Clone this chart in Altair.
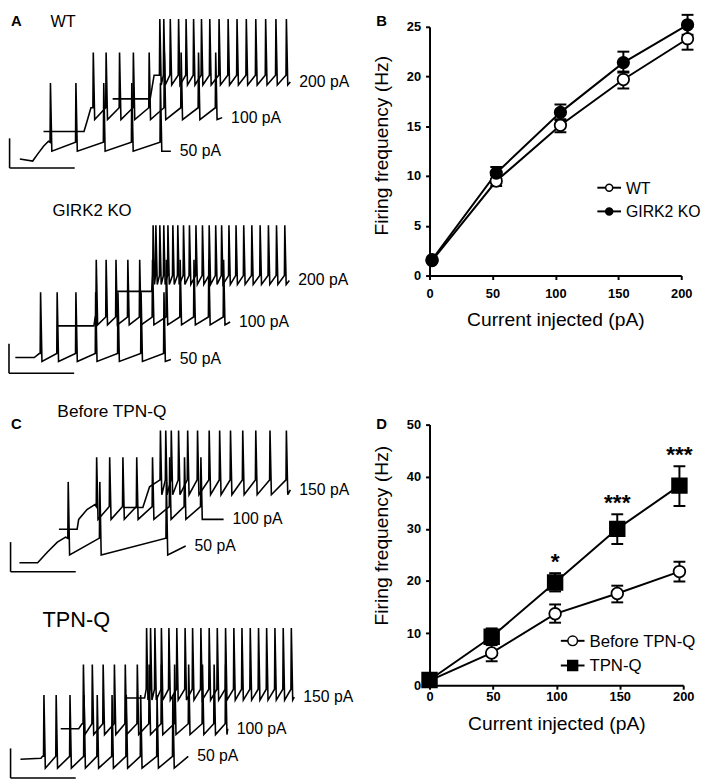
import altair as alt
import pandas as pd

FONT = "Liberation Sans"

# ------------------------------------------------------------------
# Panel B data (firing frequency, WT vs GIRK2 KO)
# ------------------------------------------------------------------
B_SERIES = ["WT", "GIRK2 KO"]
B_X = [2, 53, 104, 154, 205]
B_WT_MEAN = [1.5, 9.5, 15.1, 19.7, 23.8]
B_WT_LO = [1.5, 9.0, 14.4, 18.8, 22.7]
B_WT_HI = [1.5, 10.1, 15.7, 20.5, 25.0]
B_KO_MEAN = [1.6, 10.3, 16.4, 21.4, 25.2]
B_KO_LO = [1.6, 9.7, 15.6, 20.4, 24.2]
B_KO_HI = [1.6, 10.9, 17.2, 22.5, 26.2]

# ------------------------------------------------------------------
# Panel D data (before TPN-Q vs TPN-Q)
# ------------------------------------------------------------------
D_SERIES = ["Before TPN-Q", "TPN-Q"]
D_X = [0, 49, 99, 148, 197]
D_PRE_MEAN = [0.9, 6.2, 13.7, 17.6, 21.8]
D_PRE_LO = [0.9, 4.6, 12.0, 15.9, 19.9]
D_PRE_HI = [0.9, 8.0, 15.5, 19.1, 23.7]
D_TPN_MEAN = [1.0, 9.3, 19.7, 30.0, 38.3]
D_TPN_LO = [1.0, 7.7, 18.0, 27.1, 34.4]
D_TPN_HI = [1.0, 10.9, 21.5, 32.8, 42.0]
D_SIG = ["", "", "*", "***", "***"]

# ------------------------------------------------------------------
# Example traces (time in ms, membrane potential in mV, displayed staggered)
# levels = (spike peak, threshold, after-hyperpolarisation)
# ------------------------------------------------------------------
WT50_PRE_T = [60, 125, 150, 180, 205]
WT50_PRE_V = [-70, -72, -65, -57, -52]
WT50_SPIKES = [213, 342, 483, 625, 770]
WT50_LEVELS = [7, -53, -62]
WT50_END = [825, -62]

WT100_PRE_T = [180, 385, 400, 420]
WT100_PRE_V = [-42, -42, -32, -18]
WT100_SPIKES = [430, 495, 563, 633, 713, 790, 875, 963, 1050]
WT100_LEVELS = [38, -18, -30]
WT100_END = [1085, -28]

WT200_PRE_T = [530, 720, 740]
WT200_PRE_V = [-9, -9, 15]
WT200_SPIKES = [767, 787, 820, 862, 900, 938, 978, 1020, 1067, 1113, 1158,
                1205, 1253, 1303, 1355, 1408]
WT200_LEVELS = [72, 15, 5]
WT200_END = [1430, 8]

KO50_PRE_T = [37, 133, 158]
KO50_PRE_V = [-70, -70, -66]
KO50_SPIKES = [163, 247, 342, 442, 555, 672, 788]
KO50_LEVELS = [-4, -66, -74]
KO50_END = [825, -72]

KO100_PRE_T = [250, 435, 442]
KO100_PRE_V = [-38, -38, -29]
KO100_SPIKES = [445, 495, 545, 605, 665, 730, 800, 870, 940, 1015, 1090]
KO100_LEVELS = [29, -29, -37]
KO100_END = [1125, -34]

KO200_PRE_T = [550, 728]
KO200_PRE_V = [-3, -3]
KO200_SPIKES = [733, 747, 767, 787, 808, 833, 858, 887, 917, 950, 983, 1017,
                1050, 1080, 1117, 1153, 1192, 1233, 1275, 1317, 1358, 1400]
KO200_LEVELS = [64, 13, 4]
KO200_END = [1425, 8]

PRE50_PRE_T = [58, 150, 200, 250, 292]
PRE50_PRE_V = [-70, -70, -59, -49, -44]
PRE50_SPIKES = [303, 463, 800]
PRE50_LEVELS = [12, -45, -62]
PRE50_END = [900, -53]

PRE100_PRE_T = [258, 350, 358, 400, 440]
PRE100_PRE_V = [-36, -36, -26, -16, -11]
PRE100_SPIKES = [447, 513, 580, 650, 730, 817, 892, 975]
PRE100_LEVELS = [37, -13, -26]
PRE100_END = [1092, -26]

PRE150_PRE_T = [583, 683, 717]
PRE150_PRE_V = [-14, -14, 7]
PRE150_SPIKES = [770, 797, 825, 862, 908, 958, 1017, 1070, 1125, 1187, 1253,
                 1325, 1408]
PRE150_LEVELS = [64, 14, -1]
PRE150_END = [1430, 4]

TPN50_PRE_T = [63, 167, 175]
TPN50_PRE_V = [-70, -69, -67]
TPN50_SPIKES = [180, 242, 312, 383, 450, 525, 597, 670, 753, 833]
TPN50_LEVELS = [-5, -67, -79]
TPN50_END = [913, -67]

TPN100_PRE_T = [267, 358, 375]
TPN100_PRE_V = [-39, -39, -34]
TPN100_SPIKES = [380, 425, 480, 537, 592, 653, 713, 775, 842, 913, 983, 1042, 1100]
TPN100_LEVELS = [26, -34, -45]
TPN100_END = [1113, -39]

TPN150_PRE_T = [592, 692]
TPN150_PRE_V = [-8, -8]
TPN150_SPIKES = [700, 720, 742, 775, 813, 853, 895, 933, 975, 1017, 1058, 1100,
                 1142, 1183, 1225, 1267, 1308, 1350, 1392, 1433]
TPN150_LEVELS = [63, 1, -10]
TPN150_END = [1450, -7]

# scale bars: corner (ms, mV) and lengths
SCALEBAR_MS = 330
SCALEBAR_MV = 30
WT_BAR = [8, -79]
KO_BAR = [5, -86]
PRE_BAR = [13, -79]
TPN_BAR = [13, -89]

# display reference levels of each trace group
WT_REF = 85
KO_REF = 286
PRE_REF = 494
TPN_REF = 693

TOP = 8               # page y of the chart top
LEFT_W = 347
LEFT_H = 775
LABEL_GAP_MS = 45


def trace_points(pre_t, pre_v, spikes, levels, end):
    peak, thr, ahp = levels
    pts = list(zip(pre_t, pre_v))
    for s in spikes:
        pts += [(s, thr), (s + 2, peak), (s + 9, ahp)]
    pts.append((end[0], end[1]))
    return pts


def trace_group(ref, traces, bar, texts):
    xsc = alt.Scale(domain=[5, 5 + LEFT_W * 5], nice=False, zero=False, padding=0)
    ysc = alt.Scale(domain=[ref - TOP - LEFT_H, ref - TOP], nice=False,
                    zero=False, padding=0)
    rows, labels = [], []
    for lab, pre_t, pre_v, spikes, levels, end in traces:
        for i, (t, v) in enumerate(trace_points(pre_t, pre_v, spikes, levels, end)):
            rows.append({"trace": lab, "i": i, "t": t, "v": v})
        labels.append({"label": lab, "t": end[0] + LABEL_GAP_MS, "v": end[1]})
    lines = alt.Chart(pd.DataFrame(rows)).mark_line(
        color="black", strokeWidth=1.6
    ).encode(
        x=alt.X("t:Q", scale=xsc, axis=None),
        y=alt.Y("v:Q", scale=ysc, axis=None),
        detail="trace:N",
        order=alt.Order("i:Q"),
    )
    bar_df = pd.DataFrame([
        {"t": bar[0], "t2": bar[0], "v": bar[1], "v2": bar[1] + SCALEBAR_MV},
        {"t": bar[0], "t2": bar[0] + SCALEBAR_MS, "v": bar[1], "v2": bar[1]},
    ])
    bars = alt.Chart(bar_df).mark_rule(color="black", strokeWidth=1.6).encode(
        x=alt.X("t:Q", scale=xsc, axis=None), x2="t2:Q",
        y=alt.Y("v:Q", scale=ysc, axis=None), y2="v2:Q",
    )
    labs = alt.Chart(pd.DataFrame(labels)).mark_text(
        align="left", baseline="middle", font=FONT, fontSize=16, color="black"
    ).encode(
        x=alt.X("t:Q", scale=xsc, axis=None),
        y=alt.Y("v:Q", scale=ysc, axis=None),
        text="label:N",
    )
    layers = [lines, bars, labs]
    for txt, px, py, size, weight, base in texts:
        layers.append(
            alt.Chart(pd.DataFrame({"txt": [txt]})).mark_text(
                align="left", baseline=base, font=FONT, fontSize=size,
                fontWeight=weight, color="black"
            ).encode(x=alt.value(px), y=alt.value(py), text="txt:N")
        )
    return alt.layer(*layers)


g_wt = trace_group(
    WT_REF,
    [("50 pA", WT50_PRE_T, WT50_PRE_V, WT50_SPIKES, WT50_LEVELS, WT50_END),
     ("100 pA", WT100_PRE_T, WT100_PRE_V, WT100_SPIKES, WT100_LEVELS, WT100_END),
     ("200 pA", WT200_PRE_T, WT200_PRE_V, WT200_SPIKES, WT200_LEVELS, WT200_END)],
    WT_BAR,
    [("A", 2, 0, 15, "bold", "top"), ("WT", 42, 0, 16.5, "normal", "top")],
)
g_ko = trace_group(
    KO_REF,
    [("50 pA", KO50_PRE_T, KO50_PRE_V, KO50_SPIKES, KO50_LEVELS, KO50_END),
     ("100 pA", KO100_PRE_T, KO100_PRE_V, KO100_SPIKES, KO100_LEVELS, KO100_END),
     ("200 pA", KO200_PRE_T, KO200_PRE_V, KO200_SPIKES, KO200_LEVELS, KO200_END)],
    KO_BAR,
    [("GIRK2 KO", 44, 200, 17, "normal", "middle")],
)
g_pre = trace_group(
    PRE_REF,
    [("50 pA", PRE50_PRE_T, PRE50_PRE_V, PRE50_SPIKES, PRE50_LEVELS, PRE50_END),
     ("100 pA", PRE100_PRE_T, PRE100_PRE_V, PRE100_SPIKES, PRE100_LEVELS, PRE100_END),
     ("150 pA", PRE150_PRE_T, PRE150_PRE_V, PRE150_SPIKES, PRE150_LEVELS, PRE150_END)],
    PRE_BAR,
    [("C", 2, 415, 15, "bold", "middle"),
     ("Before TPN-Q", 49, 403, 17.5, "normal", "middle")],
)
g_tpn = trace_group(
    TPN_REF,
    [("50 pA", TPN50_PRE_T, TPN50_PRE_V, TPN50_SPIKES, TPN50_LEVELS, TPN50_END),
     ("100 pA", TPN100_PRE_T, TPN100_PRE_V, TPN100_SPIKES, TPN100_LEVELS, TPN100_END),
     ("150 pA", TPN150_PRE_T, TPN150_PRE_V, TPN150_SPIKES, TPN150_LEVELS, TPN150_END)],
    TPN_BAR,
    [("TPN-Q", 34, 614, 22, "normal", "middle")],
)

left = alt.layer(g_wt, g_ko, g_pre, g_tpn).resolve_scale(y="independent").properties(
    width=LEFT_W, height=LEFT_H
)


# ------------------------------------------------------------------
# Helpers for the frequency plots
# ------------------------------------------------------------------
def series_frame(names, xs, means, los, his):
    rows = []
    for name, m, lo, hi in zip(names, means, los, his):
        for x, a, b, c in zip(xs, m, lo, hi):
            rows.append({"series": name, "x": x, "mean": a, "lo": b, "hi": c})
    return pd.DataFrame(rows)


def legend_row(label, y, x0, x1, xtext, shape, fill, size, fontsize):
    base = alt.Chart(pd.DataFrame({"label": [label]}))
    rule = base.mark_rule(color="black", strokeWidth=2).encode(
        x=alt.value(x0), x2=alt.value(x1), y=alt.value(y))
    pt = base.mark_point(shape=shape, filled=True, fill=fill, stroke="black",
                         strokeWidth=1.5, size=size, opacity=1).encode(
        x=alt.value((x0 + x1) / 2), y=alt.value(y))
    txt = base.mark_text(align="left", baseline="middle", font=FONT,
                         fontSize=fontsize, color="black").encode(
        x=alt.value(xtext), y=alt.value(y + 1), text="label:N")
    return [rule, pt, txt]


def letter(ch, px, py):
    return alt.Chart(pd.DataFrame({"t": [ch]})).mark_text(
        align="left", baseline="top", font=FONT, fontSize=15, fontWeight="bold",
        color="black").encode(x=alt.value(px), y=alt.value(py), text="t:N")


def freq_panel(df, xsc, ysc, xaxis, yaxis, styles, extra, w, h):
    base = alt.Chart(df)
    X = alt.X("x:Q", scale=xsc, axis=xaxis)
    lines = base.mark_line(color="black", strokeWidth=2).encode(
        x=X, y=alt.Y("mean:Q", scale=ysc, axis=yaxis), detail="series:N")
    err = base.mark_rule(color="black", strokeWidth=2).encode(
        x=X, y=alt.Y("lo:Q", scale=ysc, axis=yaxis), y2="hi:Q")
    cap_lo = base.mark_tick(color="black", thickness=2, size=12,
                            orient="horizontal", opacity=1).encode(
        x=X, y=alt.Y("lo:Q", scale=ysc, axis=yaxis))
    cap_hi = base.mark_tick(color="black", thickness=2, size=12,
                            orient="horizontal", opacity=1).encode(
        x=X, y=alt.Y("hi:Q", scale=ysc, axis=yaxis))
    layers = [lines, err, cap_lo, cap_hi]
    for name, shape, fill, size in styles:
        layers.append(
            base.transform_filter(alt.datum.series == name).mark_point(
                shape=shape, filled=True, fill=fill, stroke="black",
                strokeWidth=1.8, size=size, opacity=1
            ).encode(x=X, y=alt.Y("mean:Q", scale=ysc, axis=yaxis))
        )
    layers += extra
    return alt.layer(*layers).properties(width=w, height=h)


axis_common = dict(tickSize=4, tickWidth=2, domainWidth=2)

# Panel B (plot frame starts at page y 8; the 25 tick sits 13 px lower)
B_W, B_H = 255, 265
xscB = alt.Scale(domain=[0, 200], nice=False, zero=False, padding=0)
yscB = alt.Scale(domain=[0, 25], range=[B_H, 13], nice=False, zero=False, padding=0)
dfB = series_frame(B_SERIES, B_X, [B_WT_MEAN, B_KO_MEAN], [B_WT_LO, B_KO_LO],
                   [B_WT_HI, B_KO_HI])
xaxB = alt.Axis(values=[0, 50, 100, 150, 200], title="Current injected (pA)",
                labelPadding=8, titlePadding=11, labelFlush=False, **axis_common)
yaxB = alt.Axis(values=[0, 5, 10, 15, 20, 25], title="Firing frequency (Hz)",
                labelPadding=5, titlePadding=15, titleY=133, **axis_common)
extraB = (legend_row("WT", 176, 170, 194, 199, "circle", "white", 50, 16)
          + legend_row("GIRK2 KO", 200, 170, 194, 199, "circle", "black", 50, 16)
          + [letter("B", -54, 0)])
panelB = freq_panel(dfB, xscB, yscB, xaxB, yaxB,
                    [("WT", "circle", "white", 135), ("GIRK2 KO", "circle", "black", 135)],
                    extraB, B_W, B_H)

# Panel D (plot frame starts 8 px above the 50 tick)
D_W, D_H = 257, 272
xscD = alt.Scale(domain=[0, 200], nice=False, zero=False, padding=0)
yscD = alt.Scale(domain=[0, 50], range=[D_H, 8], nice=False, zero=False, padding=0)
dfD = series_frame(D_SERIES, D_X, [D_PRE_MEAN, D_TPN_MEAN], [D_PRE_LO, D_TPN_LO],
                   [D_PRE_HI, D_TPN_HI])
xaxD = alt.Axis(values=[0, 50, 100, 150, 200], title="Current injected (pA)",
                labelPadding=1.5, titlePadding=11, labelFlush=False, **axis_common)
yaxD = alt.Axis(values=[0, 10, 20, 30, 40, 50], title="Firing frequency (Hz)",
                labelPadding=5, titlePadding=15, titleY=120, **axis_common)
stars = pd.DataFrame({"x": D_X, "hi": D_TPN_HI, "sig": D_SIG})
stars = stars[stars["sig"] != ""].copy()
stars["y"] = stars["hi"] + 2.1
star_layer = alt.Chart(stars).mark_text(
    font=FONT, fontSize=23, fontWeight="bold", baseline="middle", color="black"
).encode(
    x=alt.X("x:Q", scale=xscD, axis=xaxD),
    y=alt.Y("y:Q", scale=yscD, axis=yaxD),
    text="sig:N",
)
extraD = (legend_row("Before TPN-Q", 227, 133, 157, 162, "circle", "white", 95, 17)
          + legend_row("TPN-Q", 252, 133, 157, 162, "square", "black", 100, 17)
          + [star_layer, letter("D", -54, 0)])
panelD = freq_panel(dfD, xscD, yscD, xaxD, yaxD,
                    [("Before TPN-Q", "circle", "white", 140), ("TPN-Q", "square", "black", 220)],
                    extraD, D_W, D_H)

right = alt.vconcat(panelB, panelD, spacing=88)

chart = alt.hconcat(left, right, spacing=18).properties(padding=0).configure_view(
    strokeWidth=0
).configure_axis(
    domainColor="black", tickColor="black", grid=False,
    labelFont=FONT, labelFontSize=13, labelFontWeight="bold", labelColor="black",
    titleFont=FONT, titleFontSize=19.5, titleFontWeight="normal", titleColor="black",
).configure_text(font=FONT)

chart.save("out.html", embed_options={"renderer": "svg", "actions": False})
